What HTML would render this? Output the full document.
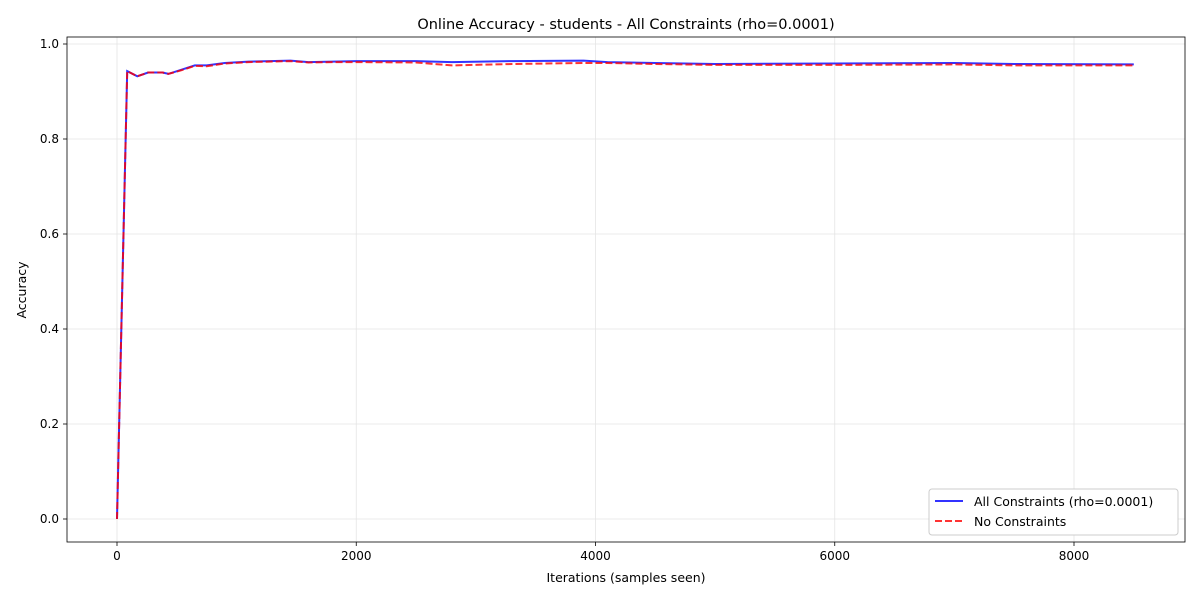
<!DOCTYPE html>
<html><head><meta charset="utf-8"><style>
body{margin:0;background:#fff;font-family:"Liberation Sans","DejaVu Sans",sans-serif;}
text{font-family:"DejaVu Sans","Liberation Sans",sans-serif;}
</style></head><body>
<svg id="chart" width="1200" height="600"></svg>
<script>
const iterations=[0,85,170,260,380,430,530,650,750,900,1100,1450,1600,1800,2000,2500,2800,3300,3900,4100,4500,5000,6000,7000,7500,8500];
const constrainedAcc=[0,0.943,0.932,0.940,0.940,0.937,0.945,0.955,0.955,0.960,0.963,0.965,0.962,0.963,0.964,0.964,0.962,0.964,0.965,0.962,0.960,0.958,0.959,0.960,0.958,0.957];
const unconstrainedAcc=[0,0.943,0.932,0.940,0.940,0.937,0.944,0.954,0.953,0.959,0.962,0.964,0.961,0.962,0.962,0.961,0.955,0.958,0.960,0.960,0.958,0.956,0.956,0.957,0.955,0.955];
const xTicks=[0,2000,4000,6000,8000];
const yTicks=[0,0.2,0.4,0.6,0.8,1.0];
const NS="http://www.w3.org/2000/svg";
const svg=document.getElementById('chart');
const L=67,R=1185,T=37,B=542;
const xs=v=>117+v*(1074-117)/8000;
const ys=v=>519-v*475;
function mk(tag,attrs,parent){const e=document.createElementNS(NS,tag);for(const k in attrs)e.setAttribute(k,attrs[k]);(parent||svg).appendChild(e);return e;}
const grid=mk('g',{});


xTicks.forEach(t=>{mk('line',{x1:xs(t),x2:xs(t),y1:T,y2:B,stroke:'#e5e5e5','stroke-width':0.8},grid);
 mk('line',{x1:xs(t),x2:xs(t),y1:B,y2:B+4,stroke:'#000','stroke-width':0.8});
 const tx=mk('text',{x:xs(t),y:B+18,'text-anchor':'middle','font-size':12});tx.textContent=t;
 
 });
yTicks.forEach(t=>{mk('line',{x1:L,x2:R,y1:ys(t),y2:ys(t),stroke:'#e5e5e5','stroke-width':0.8},grid);
 mk('line',{x1:L-4,x2:L,y1:ys(t),y2:ys(t),stroke:'#000','stroke-width':0.8});
 const tx=mk('text',{x:L-8,y:ys(t)+4,'text-anchor':'end','font-size':12});tx.textContent=t.toFixed(1);
 
 });
function path(arr){return arr.map((v,i)=>(i?'L':'M')+xs(iterations[i]).toFixed(1)+','+ys(v).toFixed(1)).join('');}
const l1=mk('path',{d:path(constrainedAcc),fill:'none',stroke:'#0000ff','stroke-opacity':0.8,'stroke-width':2});


const l2=mk('path',{d:path(unconstrainedAcc),fill:'none',stroke:'#ff0000','stroke-opacity':0.8,'stroke-width':2,'stroke-dasharray':'7,3'});


const frame=mk('rect',{x:L,y:T,width:R-L,height:B-T,fill:'none',stroke:'#000','stroke-width':0.8});


const title=mk('text',{x:(L+R)/2,y:29,'text-anchor':'middle','font-size':14.5});title.textContent='Online Accuracy - students - All Constraints (rho=0.0001)';


const xl=mk('text',{x:(L+R)/2,y:582,'text-anchor':'middle','font-size':12.5});xl.textContent='Iterations (samples seen)';


const yl=mk('text',{x:26,y:290,'text-anchor':'middle','font-size':12.5,transform:'rotate(-90 26 290)'});yl.textContent='Accuracy';


const lg=mk('g',{});


mk('rect',{x:929,y:489,width:249,height:46,rx:3,fill:'#fff',stroke:'#ccc','stroke-width':1},lg);
mk('line',{x1:935,x2:963,y1:501,y2:501,stroke:'#0000ff','stroke-opacity':0.8,'stroke-width':2},lg);
mk('line',{x1:935,x2:963,y1:521,y2:521,stroke:'#ff0000','stroke-opacity':0.8,'stroke-width':2,'stroke-dasharray':'7,3'},lg);
const t1=mk('text',{x:974,y:506,'font-size':12.5},lg);t1.textContent='All Constraints (rho=0.0001)';


const t2=mk('text',{x:974,y:526,'font-size':12.5},lg);t2.textContent='No Constraints';


</script>
</body></html>
